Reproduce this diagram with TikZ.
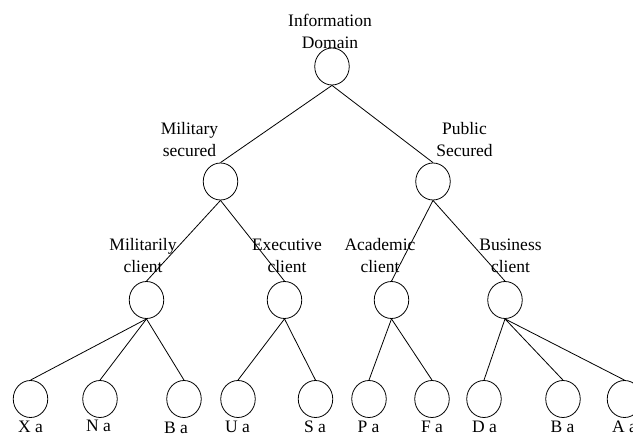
\documentclass[tikz,border=0pt]{standalone}
\usepackage{fontspec}
\setmainfont{Liberation Serif}
\usetikzlibrary{shapes,positioning}

\begin{document}
\begin{tikzpicture}[x=1pt, y=-1pt, line width=0.8pt,
    every node/.style={font=\fontsize{17.5}{22.5}\selectfont},
    vertex/.style={draw, ellipse, inner sep=0pt, minimum width=34.5pt, minimum height=37pt},
    caption/.style={align=center, inner sep=0pt, text depth=0pt, anchor=south},
    leaflbl/.style={inner sep=0pt, anchor=base}]
  \useasboundingbox (0,0) rectangle (633,436);

  % Root
  \node[vertex] (root) at (332, 66.5) {};
  \node[caption] (rootlbl) at (330, 49) {Information\\Domain};

  % First level
  \node[vertex] (mil) at (220.5, 181.5) {};
  \node[vertex] (pub) at (433, 181.5) {};
  \node[caption] (millbl) at (189.5, 157) {Military\\secured};
  \node[caption] (publbl) at (464.5, 157) {Public\\Secured};

  % Clients
  \node[vertex] (milc) at (146.5, 300) {};
  \node[vertex] (exec) at (284.5, 300) {};
  \node[vertex] (acad) at (391.5, 300) {};
  \node[vertex] (bus) at (505, 300) {};
  \node[caption] (milclbl) at (143, 273) {Militarily\\client};
  \node[caption] (execlbl) at (287, 273) {Executive\\client};
  \node[caption] (acadlbl) at (380, 273) {Academic\\client};
  \node[caption] (buslbl) at (510.5, 273) {Business\\client};

  % Leaves
  \node[vertex] (xa) at (30.5, 399) {};
  \node[vertex] (na) at (100, 399) {};
  \node[vertex] (baa) at (184, 399) {};
  \node[vertex] (ua) at (238, 399) {};
  \node[vertex] (sa) at (315.5, 399) {};
  \node[vertex] (pa) at (369, 399) {};
  \node[vertex] (fa) at (432, 399) {};
  \node[vertex] (da) at (484, 399) {};
  \node[vertex] (bab) at (563, 399) {};
  \node[vertex] (aa) at (624.5, 399) {};

  \node[leaflbl] (xalbl) at (30.5, 432) {X a};
  \node[leaflbl] (nalbl) at (98.5, 431) {N a};
  \node[leaflbl] (baalbl) at (176, 433.5) {B a};
  \node[leaflbl] (ualbl) at (237.5, 432) {U a};
  \node[leaflbl] (salbl) at (315, 432) {S a};
  \node[leaflbl] (palbl) at (368.5, 432) {P a};
  \node[leaflbl] (falbl) at (432, 432) {F a};
  \node[leaflbl] (dalbl) at (484.5, 432) {D a};
  \node[leaflbl] (bablbl) at (562.5, 432) {B a};
  \node[leaflbl] (aalbl) at (624.5, 432) {A a};

  % Edges
  \draw (root.south) -- (mil.north);
  \draw (root.south) -- (pub.north);
  \draw (mil.south) -- (milc.north);
  \draw (mil.south) -- (exec.north);
  \draw (pub.south) -- (acad.north);
  \draw (pub.south) -- (bus.north);
  \draw (milc.south) -- (xa.north);
  \draw (milc.south) -- (na.north);
  \draw (milc.south) -- (baa.north);
  \draw (exec.south) -- (ua.north);
  \draw (exec.south) -- (sa.north);
  \draw (acad.south) -- (pa.north);
  \draw (acad.south) -- (fa.north);
  \draw (bus.south) -- (da.north);
  \draw (bus.south) -- (bab.north);
  \draw (bus.south) -- (aa.north);
\end{tikzpicture}
\end{document}
